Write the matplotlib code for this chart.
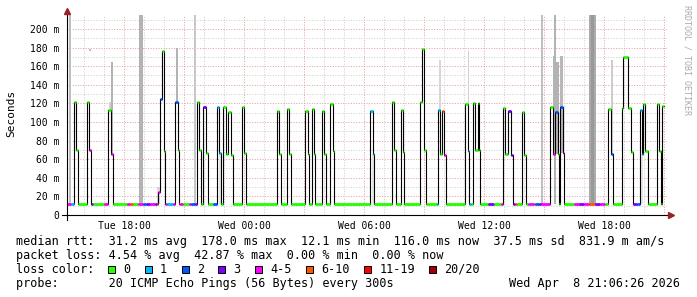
import matplotlib
matplotlib.use('Agg')
import matplotlib.pyplot as plt
from matplotlib.patches import Rectangle

# median rtt steps: start minute (since Tue 00:00), value in ms, loss class
med_start = [909, 921, 929, 935, 941, 970, 974, 980, 987, 1021,
             1032, 1041, 1046, 1089, 1098, 1107, 1122, 1137, 1146, 1158,
             1173, 1179, 1183, 1189, 1195, 1199, 1204, 1210, 1227, 1234,
             1241, 1244, 1249, 1256, 1274, 1282, 1294, 1299, 1304, 1310,
             1316, 1325, 1331, 1348, 1359, 1366, 1370, 1377, 1385, 1393,
             1401, 1407, 1435, 1439, 1445, 1539, 1545, 1550, 1569, 1574,
             1580, 1624, 1631, 1634, 1644, 1649, 1654, 1674, 1679, 1685,
             1699, 1706, 1709, 1819, 1827, 1830, 1884, 1890, 1895, 1910,
             1917, 1919, 1969, 1975, 1979, 1985, 2020, 2023, 2029, 2034,
             2039, 2045, 2104, 2111, 2114, 2122, 2127, 2134, 2141, 2146,
             2149, 2172, 2189, 2212, 2217, 2224, 2232, 2240, 2246, 2254,
             2259, 2274, 2279, 2285, 2292, 2309, 2314, 2324, 2332, 2359,
             2366, 2374, 2382, 2386, 2389, 2396, 2399, 2429, 2444, 2459,
             2474, 2494, 2509, 2524, 2532, 2540, 2546, 2574, 2577, 2592,
             2600, 2608, 2619, 2629, 2634, 2637, 2644, 2651, 2679, 2685,
             2691, 2694]
med_end = 2699
med_ms = [12.3, 12.3, 121, 70, 12.2, 121, 70, 12.2, 12.2, 12.2,
          113, 66, 12.2, 12.2, 12.2, 12.2, 12.2, 12.2, 12.2, 12.2,
          12.2, 12.2, 25, 125, 176, 69, 12.2, 12.2, 12.2, 121,
          70, 12.2, 12.2, 12.2, 12.2, 12.2, 12.2, 121, 70, 12.2,
          116, 67, 12.2, 12.2, 116, 67, 12.2, 116, 66, 111,
          65, 12.2, 116, 67, 12.2, 112, 66, 12.2, 114, 66,
          12.2, 112, 66, 12.2, 114, 66, 12.2, 112, 66, 12.2,
          119, 69, 12.2, 112, 66, 12.2, 121, 70, 12.2, 113,
          68, 12.2, 121, 178, 70, 12.2, 12.2, 113, 66, 112,
          65, 12.2, 119, 69, 12.2, 12.2, 120, 70, 120, 70,
          12.2, 12.2, 12.2, 12.2, 115, 66, 112, 65, 12.2, 12.2,
          12.2, 111, 65, 12.2, 12.2, 12.2, 12.2, 12.2, 12.2, 116,
          66, 111, 66, 12.2, 116, 67, 12.2, 12.2, 12.2, 12.2,
          12.2, 12.2, 12.2, 12.2, 114, 66, 12.2, 115, 170, 115,
          68, 12.2, 12.2, 113, 66, 119, 69, 12.2, 119, 69,
          12.2, 117]
med_loss = [4, 1, 0, 0, 0, 0, 4, 3, 0, 4,
            0, 4, 0, 4, 5, 0, 4, 2, 3, 4,
            3, 5, 4, 2, 0, 0, 4, 1, 4, 2,
            0, 5, 4, 0, 4, 2, 3, 0, 0, 0,
            3, 0, 0, 2, 1, 1, 0, 0, 0, 0,
            0, 0, 0, 0, 0, 0, 0, 0, 0, 0,
            0, 0, 0, 0, 0, 0, 0, 0, 0, 0,
            0, 0, 0, 1, 1, 0, 0, 0, 0, 0,
            0, 0, 0, 0, 0, 0, 1, 1, 0, 5,
            4, 0, 0, 1, 1, 0, 0, 0, 0, 0,
            0, 3, 0, 4, 0, 0, 3, 3, 3, 5,
            0, 0, 0, 0, 4, 5, 2, 3, 4, 0,
            4, 2, 0, 0, 2, 4, 0, 4, 3, 4,
            5, 3, 4, 0, 0, 2, 0, 0, 0, 0,
            0, 3, 2, 1, 1, 0, 0, 0, 0, 0,
            0, 0]

# smoke (spread of the 20 pings): start, end, low ms, high ms, density
smoke_start = [914, 974, 1034, 1041, 1124, 1180, 1236, 1289, 1366, 1824,
               2024, 2111, 2331, 2366, 2369, 2376, 2388, 2474, 2480, 2540, 2631]
smoke_end = [921, 980, 1041, 1046, 1137, 1189, 1242, 1296, 1371, 1830,
             2031, 2114, 2338, 2369, 2376, 2386, 2396, 2496, 2490, 2546, 2637]
smoke_lo = [12, 176, 113, 66, 12, 12, 121, 12, 12, 12,
            113, 69, 12, 66, 12, 66, 67, 12, 12, 66, 12]
smoke_hi = [215, 178, 122, 165, 215, 30, 179, 215, 67, 66,
            167, 176, 215, 171, 215, 165, 171, 215, 215, 167, 66]
smoke_density = [0.25, 0.25, 0.18, 0.3, 0.3, 0.15, 0.3, 0.22, 0.1, 0.1,
                 0.16, 0.18, 0.25, 0.3, 0.3, 0.3, 0.28, 0.33, 0.4, 0.2, 0.1]

loss_labels = ['0', '1', '2', '3', '4-5', '6-10', '11-19', '20/20']
loss_colors = ['#26ff00', '#00b8ff', '#0059ff', '#7e00ff',
               '#ff00ff', '#ff5500', '#ff0000', '#a10000']

xtick_min = [1080, 1440, 1800, 2160, 2520]
xtick_labels = ['Tue 18:00', 'Wed 00:00', 'Wed 06:00', 'Wed 12:00', 'Wed 18:00']

stats_lines = [
    'median rtt:  31.2 ms avg  178.0 ms max  12.1 ms min  116.0 ms now  37.5 ms sd  831.9 m am/s',
    'packet loss: 4.54 % avg  42.87 % max  0.00 % min  0.00 % now',
]
probe_text = 'probe:       20 ICMP Echo Pings (56 Bytes) every 300s'
stamp = 'Wed Apr  8 21:06:26 2026'

MONO = 'DejaVu Sans Mono'
W, H = 697, 297
fig = plt.figure(figsize=(W / 100, H / 100), dpi=100)
ax = fig.add_axes([67 / W, 1 - 215 / H, 600 / W, 200 / H])
ax.set_xlim(909, 2709)
ax.set_ylim(0, 215)

# grid, dotted like rrdtool
for m in range(960, 2709, 60):
    c = '#e2a0a0' if m % 180 == 0 else '#cfcfcf'
    ax.axvline(m, color=c, lw=0.72, dashes=(1, 1.6), zorder=1)
for v in range(10, 215, 10):
    c = '#e2a0a0' if v % 20 == 0 else '#cfcfcf'
    ax.axhline(v, color=c, lw=0.72, dashes=(1, 1.6), zorder=1)

# smoke
for s, e, lo, hi, d in zip(smoke_start, smoke_end, smoke_lo, smoke_hi, smoke_density):
    g = 1 - d
    ax.bar(s, hi - lo, width=e - s, bottom=lo, align='edge',
           color=(g, g, g), linewidth=0, zorder=2)

# median line
xs = med_start + [med_end]
ys = med_ms + [med_ms[-1]]
ax.step(xs, ys, where='post', color='black', lw=0.8, zorder=3)
ends = med_start[1:] + [med_end]
ax.hlines(med_ms, med_start, ends, colors=[loss_colors[l] for l in med_loss],
          lw=2.0, zorder=4)

ax.set_xticks(xtick_min)
ax.set_xticklabels(xtick_labels, family=MONO, fontsize=7)
ax.set_yticks(range(0, 201, 20))
ax.set_yticklabels(['0'] + ['%d m' % v for v in range(20, 201, 20)],
                   family=MONO, fontsize=7)
ax.tick_params(axis='x', length=0, pad=4.5)
ax.tick_params(axis='y', length=0, pad=5.5)
for sp in ax.spines.values():
    sp.set_visible(False)

# axis lines with arrows
ax.plot([-0.008, 1.002], [0, 0], color='black', lw=0.8,
        transform=ax.transAxes, clip_on=False, zorder=5)
ax.plot([0, 0], [-0.025, 1.015], color='black', lw=0.8,
        transform=ax.transAxes, clip_on=False, zorder=5)
ax.plot([1.0063], [0], marker='>', ms=4, color='#992222', mec='#992222',
        transform=ax.transAxes, clip_on=False, zorder=6)
ax.plot([0], [1.0225], marker='^', ms=4, color='#992222', mec='#992222',
        transform=ax.transAxes, clip_on=False, zorder=6)

fig.text(10.8 / W, 1 - 113 / H, 'Seconds', rotation=90, ha='center',
         va='center', family=MONO, fontsize=8)
fig.text(687 / W, 1 - 60 / H, 'RRDTOOL / TOBI OETIKER', rotation=270,
         ha='center', va='center', family=MONO, fontsize=6, color='#aaaaaa')

# legend block
fs = 8.45
fig.text(16 / W, 1 - 245 / H, stats_lines[0], family=MONO, fontsize=fs, va='baseline')
fig.text(16 / W, 1 - 258.7 / H, stats_lines[1], family=MONO, fontsize=fs, va='baseline')
fig.text(16 / W, 1 - 272.7 / H, 'loss color:', family=MONO, fontsize=fs, va='baseline')
bx = 108.3
for lab, col in zip(loss_labels, loss_colors):
    fig.add_artist(Rectangle((bx / W, 1 - 272.7 / H), 7 / W, 7.2 / H,
                             transform=fig.transFigure, facecolor=col,
                             edgecolor='black', lw=0.7))
    fig.text((bx + 15) / W, 1 - 272.7 / H, lab, family=MONO, fontsize=fs, va='baseline')
    bx = bx + 15 + len(lab) * 7.12 + 14.6
fig.text(16 / W, 1 - 286.7 / H, probe_text, family=MONO, fontsize=fs, va='baseline')
fig.text(680 / W, 1 - 286.7 / H, stamp, family=MONO, fontsize=fs,
         va='baseline', ha='right')

fig.savefig('out.png', dpi=100)
